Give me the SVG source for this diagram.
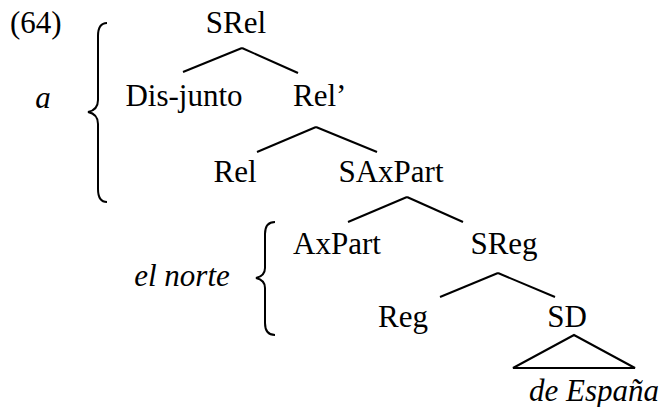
<svg xmlns="http://www.w3.org/2000/svg" width="663" height="407" viewBox="0 0 663 407">
<style>
text{font-family:"Liberation Serif","Times New Roman",serif;font-size:31px;fill:#000}
.it{font-style:italic}
.c line,.c polygon{stroke:#000;stroke-width:2;fill:none}
.br{stroke:#000;stroke-width:2;fill:none}
</style>
<rect width="663" height="407" fill="#fff"/>
<g id="label"><text x="10" y="33">(64)</text></g>
<g id="a"><text class="it" x="43" y="108" text-anchor="middle">a</text></g>
<g id="brace1"><path class="br" d="M107,23 Q98,23 98,36 L98,100 Q98,110 88,112 Q98,114 98,124 L98,189 Q98,202 107,202"/></g>
<g id="elnorte"><text class="it" x="182" y="286" text-anchor="middle">el norte</text></g>
<g id="brace2"><path class="br" d="M275,222 Q265,222 265,234 L265,268 Q265,276 256,278 Q265,280 265,288 L265,323 Q265,335 275,335"/></g>
<g id="SRel"><text x="236" y="33" text-anchor="middle">SRel</text></g>
<g id="Disjunto"><text x="184" y="106" text-anchor="middle">Dis-junto</text></g>
<g id="RelBar"><text x="293" y="106">Rel’</text></g>
<g id="Rel"><text x="235" y="182" text-anchor="middle">Rel</text></g>
<g id="SAxPart"><text x="391" y="182" text-anchor="middle">SAxPart</text></g>
<g id="AxPart"><text x="337" y="254" text-anchor="middle">AxPart</text></g>
<g id="SReg"><text x="504" y="254" text-anchor="middle">SReg</text></g>
<g id="Reg"><text x="403" y="327" text-anchor="middle">Reg</text></g>
<g id="SD"><text x="567" y="327" text-anchor="middle">SD</text></g>
<g id="deEspana"><text class="it" x="594" y="401" text-anchor="middle">de España</text></g>
<g id="connectors" class="c">
<line x1="183" y1="72" x2="242" y2="48"/>
<line x1="242" y1="48" x2="298" y2="73"/>
<line x1="257" y1="152" x2="316" y2="127"/>
<line x1="316" y1="127" x2="377" y2="152"/>
<line x1="348" y1="222" x2="407" y2="197"/>
<line x1="407" y1="197" x2="463" y2="222"/>
<line x1="440" y1="297" x2="498" y2="273"/>
<line x1="498" y1="273" x2="555" y2="297"/>
<polygon points="574,335 513,368 635,368"/>
</g>
</svg>
